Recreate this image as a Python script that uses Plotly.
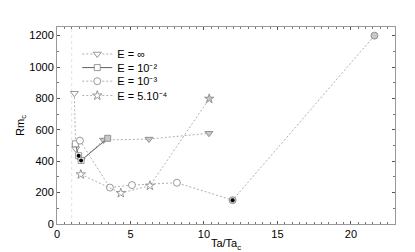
import plotly.graph_objects as go

# Data
inf_x = [1.18, 1.27, 1.64, 3.17, 6.26, 10.34]
inf_y = [833, 480, 405, 535, 541, 578]
inf_fill = ["white", "white", "white", "#c8c8c8", "#c8c8c8", "#c8c8c8"]

e2_x = [1.25, 1.47, 1.64, 3.45]
e2_y = [511, 435, 405, 546]
e2_fill = ["white", "white", "white", "#c8c8c8"]

e3_x = [1.56, 3.6, 5.1, 8.16, 11.95, 21.6]
e3_y = [531, 232, 248, 263, 152, 1200]
e3_fill = ["white", "white", "white", "white", "#c8c8c8", "#c8c8c8"]

e4_x = [1.62, 4.34, 6.32, 10.36]
e4_y = [316, 197, 244, 798]
e4_fill = ["white", "white", "white", "#c8c8c8"]

crit_x = [1.47, 1.64, 11.95]
crit_y = [435, 405, 152]

names = ["E = ∞", "E = 10⁻²", "E = 10⁻³", "E = 5.10⁻⁴"]

LINE = "#9a9a9a"
MK = "#808080"

fig = go.Figure()

# vertical line at Ta/Ta_c = 1
fig.add_trace(go.Scatter(x=[1, 1], y=[0, 1255], mode="lines",
                         line=dict(color="#e0e0e0", width=1, dash="dot"),
                         showlegend=False, hoverinfo="skip"))

def add(x, y, fill, sym, name, size, dash, legend, lcol=LINE, lw=0.8):
    fig.add_trace(go.Scatter(x=x, y=y, mode="lines+markers", name=name,
                             legend=legend,
                             line=dict(color=lcol, width=lw, dash=dash),
                             marker=dict(symbol=sym, size=size, color=fill,
                                         line=dict(color=MK, width=0.8))))

add(inf_x, inf_y, inf_fill, "triangle-down", names[0], 7, "2px,2px", "legend")
add(e2_x, e2_y, e2_fill, "square", names[1], 6, "solid", "legend2", lcol="#606060", lw=1)
add(e3_x, e3_y, e3_fill, "circle", names[2], 7, "2px,2px", "legend3")
add(e4_x, e4_y, e4_fill, "star", names[3], 7, "2px,2px", "legend4")

fig.add_trace(go.Scatter(x=crit_x, y=crit_y, mode="markers", showlegend=False,
                         marker=dict(symbol="circle", size=4, color="black")))

axis_common = dict(showline=True, linecolor="#999999", linewidth=1, mirror="ticks",
                   ticks="inside", ticklen=3, tickcolor="#555555",
                   showgrid=False, zeroline=False,
                   tickfont=dict(size=11, color="black", family="Liberation Sans"))

leg = dict(x=0.06, xanchor="left", yanchor="middle",
           bgcolor="rgba(0,0,0,0)", font=dict(size=11), itemwidth=30)

fig.update_layout(
    width=415, height=252,
    margin=dict(l=40, r=28, t=19, b=29),
    plot_bgcolor="white", paper_bgcolor="white",
    font=dict(family="Liberation Sans", size=11, color="black"),
    xaxis=dict(range=[0, 23], tickvals=[0, 5, 10, 15, 20],
               minor=dict(dtick=0.5, ticks="inside", ticklen=2, tickcolor="#777777"),
               title=dict(text="Ta/Ta<sub>c</sub>", standoff=0, font=dict(size=11)),
               **axis_common),
    yaxis=dict(range=[0, 1255], tickvals=[0, 200, 400, 600, 800, 1000, 1200],
               minor=dict(dtick=100, ticks="inside", ticklen=2, tickcolor="#777777"),
               title=dict(text="Rm<sub>c</sub>", standoff=2, font=dict(size=11)),
               **axis_common),
    legend=dict(y=0.863, **leg),
    legend2=dict(y=0.794, **leg),
    legend3=dict(y=0.725, **leg),
    legend4=dict(y=0.652, **leg),
)

fig.write_html("out.html")
